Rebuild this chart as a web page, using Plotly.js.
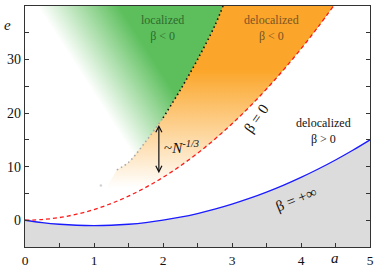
<!DOCTYPE html>
<html><head><meta charset="utf-8">
<script src="https://cdn.plot.ly/plotly-3.0.1.min.js"></script>
<style>html,body{margin:0;padding:0;background:#fff}#c{width:374px;height:266px}</style>
</head><body><div id="c"></div>
<script>
// beta = +infinity boundary (blue)
const blueA = [0,0.25,0.5,0.75,1,1.25,1.5,1.75,2,2.25,2.5,2.75,3,3.25,3.5,3.75,4,4.25,4.5,4.75,5];
const blueE = [0,-0.44,-0.75,-0.94,-1,-0.94,-0.75,-0.44,0,0.56,1.25,2.06,3,4.06,5.25,6.56,8,9.56,11.25,13.06,15];
// beta = 0 boundary (red dashed)
const redA = [0,0.25,0.5,0.75,1,1.25,1.5,1.75,2,2.25,2.5,2.75,3,3.25,3.5,3.75,4,4.25,4.47];
const redE = [0,0.13,0.5,1.13,2,3.13,4.5,6.13,8,10.13,12.5,15.13,18,21.13,24.5,28.13,32,36.13,40];
// localization boundary (dotted)
const dotA = [1.33,1.5,1.75,2.0,2.25,2.5,2.75,2.87];
const dotE = [9.4,10.8,14.7,19.1,24.3,30.0,36.3,40];
const strayA = [1.1], strayE = [6.5];
// arrow ~N^-1/3
const arrowA = 1.94, arrowLow = 8.5, arrowHigh = 17.8;
const xTicks = [0,0.5,1,1.5,2,2.5,3,3.5,4,4.5,5];
const xText = ['0','','1','','2','','3','','4','','5'];
const yTicks = [-5,0,5,10,15,20,25,30,35,40];
const yText = ['','0','','10','','20','','30','','40'];
// background shading of the localized region (corner values of a smooth ramp)
const shadeA = [-0.5, 5.5];
const shadeE = [-10, 45];
const shadeZ = [[-1.0, 5.0], [1.75, 7.75]];

const serif = 'Liberation Serif';

// orange region: tip on red curve, dotted boundary up, top, red curve down
const orX = [1.0].concat(dotA, redA.slice(4).reverse());
const orY = [2.0].concat(dotE, redE.slice(4).reverse());
// white region right of red curve
const whX = redA.concat([5,5,0]);
const whY = redE.concat([40,-5,-5]);
// grey region below blue
const grayX = blueA.concat([5,0]);
const grayY = blueE.concat([-5,-5]);

const traces = [
  {type:'heatmap', x: shadeA, y: shadeE, z: shadeZ, zsmooth:'best', zmin:2.17, zmax:3.35,
   colorscale:[[0,'#ffffff'],[1,'#5cbf5c']], showscale:false, hoverinfo:'skip'},
  {x: whX, y: whY, fill:'toself', fillcolor:'#ffffff', mode:'none', hoverinfo:'skip'},
  {x: grayX, y: grayY, fill:'toself', fillcolor:'#dcdcdc', mode:'none', hoverinfo:'skip'},
  {x: orX, y: orY, fill:'toself', mode:'none', hoverinfo:'skip',
   fillgradient:{type:'vertical', start:6, stop:28, colorscale:[[0,'#ffffff'],[1,'#fba62a']]}},
  {x: blueA, y: blueE, mode:'lines', line:{color:'#1a1aff', width:1.3, shape:'spline'}},
  {x: redA, y: redE, mode:'lines', line:{color:'#ff1a1a', width:1.3, dash:'4px,3px', shape:'spline'}},
  {x: dotA.slice(0,4), y: dotE.slice(0,4), mode:'lines', line:{color:'#a8a8a8', width:1.6, dash:'1.5px,3px', shape:'spline'}},
  {x: dotA.slice(3), y: dotE.slice(3), mode:'lines', line:{color:'#111', width:1.6, dash:'1.5px,3px', shape:'spline'}},
  {x: strayA, y: strayE, mode:'markers', marker:{color:'#d0d0d0', size:2.5}}
];

const layout = {
  width:374, height:266, margin:{l:25, r:4, t:6, b:19},
  showlegend:false, paper_bgcolor:'#fff', plot_bgcolor:'#fff',
  font:{family:serif, size:13, color:'#111'},
  xaxis:{range:[0,5], tickvals:xTicks, ticktext:xText, ticks:'inside', ticklen:4, tickwidth:1,
         tickcolor:'#333', showline:true, linecolor:'#333', linewidth:1.3, mirror:true,
         showgrid:false, zeroline:false, tickfont:{family:serif, size:13.5}},
  yaxis:{range:[-5,40], tickvals:yTicks, ticktext:yText, ticks:'inside', ticklen:4, tickwidth:1,
         tickcolor:'#333', showline:true, linecolor:'#333', linewidth:1.3, mirror:'ticks',
         showgrid:false, zeroline:false, tickfont:{family:serif, size:14}},
  annotations:[
    {x:arrowA, y:arrowHigh, ax:arrowA, ay:arrowLow, xref:'x', yref:'y', axref:'x', ayref:'y',
     showarrow:true, arrowside:'end+start', arrowhead:5, startarrowhead:5, arrowsize:1, startarrowsize:1, arrowwidth:1.2, arrowcolor:'#111', text:''},
    {x:1.99, y:13.6, xref:'x', yref:'y', xanchor:'left', yanchor:'middle', showarrow:false,
     text:'~<i>N</i><sup><i>-1/3</i></sup>', font:{family:serif, size:15, color:'#111'}},
    {x:1.99, y:35.8, xref:'x', yref:'y', showarrow:false, text:'localized<br>β < 0',
     font:{family:serif, size:12, color:'#2e6b2e'}},
    {x:3.57, y:35.8, xref:'x', yref:'y', showarrow:false, text:'delocalized<br>β < 0',
     font:{family:serif, size:12, color:'#7a5424'}},
    {x:4.32, y:16.6, xref:'x', yref:'y', showarrow:false, text:'delocalized<br>β > 0',
     font:{family:serif, size:12, color:'#111'}},
    {x:3.36, y:19, xref:'x', yref:'y', showarrow:false, text:'β = 0', textangle:-55,
     font:{family:serif, size:15, color:'#111'}},
    {x:3.94, y:3.9, xref:'x', yref:'y', showarrow:false, text:'β = +∞', textangle:-22,
     font:{family:serif, size:15, color:'#111'}},
    {x:-0.052, y:0.921, xref:'paper', yref:'paper', xanchor:'center', yanchor:'middle', showarrow:false, text:'<i>e</i>',
     font:{family:serif, size:15, color:'#111'}},
    {x:0.899, y:-0.046, xref:'paper', yref:'paper', xanchor:'center', yanchor:'middle', showarrow:false, text:'<i>a</i>',
     font:{family:serif, size:15, color:'#111'}}
  ]
};
Plotly.newPlot('c', traces, layout, {staticPlot:true, displayModeBar:false});
</script>
</body></html>
